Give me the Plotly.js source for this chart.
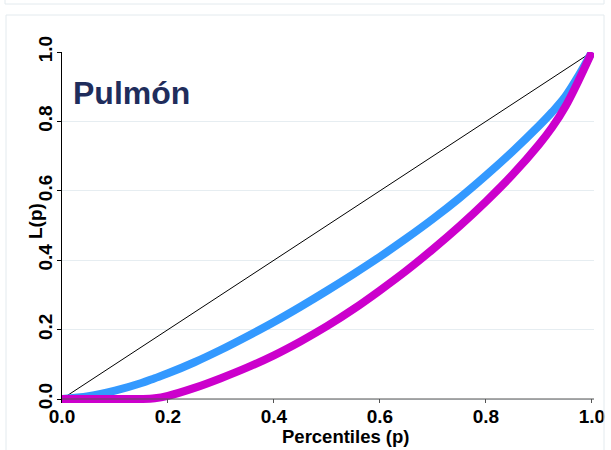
<!DOCTYPE html>
<html>
<head>
<meta charset="utf-8">
<script src="https://cdn.plot.ly/plotly-3.0.1.min.js"></script>
<style>html,body{margin:0;padding:0;background:#fff;}#chart{width:611px;height:450px;}</style>
</head>
<body>
<div id="chart"></div>
<script>
// Percentiles (p)
var pctl = [0, 0.05, 0.1, 0.15, 0.175, 0.2, 0.25, 0.3, 0.35, 0.4, 0.45, 0.5, 0.55, 0.6, 0.65, 0.7, 0.75, 0.8, 0.85, 0.9, 0.925, 0.95, 0.975, 1.0];
// Lorenz curve L(p) - blue series
var lorenzBlue = [0, 0.008, 0.024, 0.046, 0.06, 0.074, 0.106, 0.142, 0.181, 0.222, 0.266, 0.312, 0.36, 0.41, 0.463, 0.519, 0.579, 0.644, 0.713, 0.787, 0.827, 0.872, 0.932, 1.0];
// Lorenz curve L(p) - magenta series
var lorenzMagenta = [0, 0, 0, 0, 0.002, 0.009, 0.032, 0.06, 0.091, 0.126, 0.166, 0.21, 0.259, 0.313, 0.37, 0.432, 0.498, 0.569, 0.646, 0.733, 0.783, 0.843, 0.918, 1.0];
// Equality line
var equalX = [0, 1];
var equalY = [0, 1];
var tickVals = [0, 0.2, 0.4, 0.6, 0.8, 1.0];
var tickText = ['0.0', '0.2', '0.4', '0.6', '0.8', '1.0'];
var panelTitle = 'Pulmón';
var xTitle = 'Percentiles (p)';
var yTitle = 'L(p)';

var font = 'Liberation Sans, Arial, Helvetica, sans-serif';

var traces = [
  {x: equalX, y: equalY, mode: 'lines', line: {color: '#000000', width: 1}, hoverinfo: 'skip'},
  {x: pctl, y: lorenzBlue, mode: 'lines', line: {color: '#3399FF', width: 8, shape: 'spline', smoothing: 1}},
  {x: pctl, y: lorenzMagenta, mode: 'lines', line: {color: '#CC00CC', width: 8, shape: 'spline', smoothing: 1}}
];

// plot area: x 62..594, y 52..403
function px(v){ return (v - 62) / 532; }
function py(v){ return (403 - v) / 351; }

var layout = {
  width: 611, height: 450,
  margin: {l: 62, r: 17, t: 52, b: 47},
  paper_bgcolor: '#ffffff', plot_bgcolor: '#ffffff',
  showlegend: false,
  xaxis: {
    range: [0, 1.004], showgrid: false, zeroline: false, showline: false,
    ticks: 'inside', ticklen: 4, tickcolor: '#555555',
    tickvals: tickVals, ticktext: tickText,
    tickfont: {family: font, size: 19, color: '#000', weight: 'bold'}
  },
  yaxis: {
    range: [-0.0115, 1.0], showgrid: true, gridcolor: '#e6edf1', gridwidth: 1,
    zeroline: false, showline: true, linecolor: '#000000', linewidth: 1,
    ticks: 'outside', ticklen: 4, tickcolor: '#000000',
    tickvals: tickVals, ticktext: tickText, tickangle: -90, ticklabelstandoff: -3,
    tickfont: {family: font, size: 19, color: '#000', weight: 'bold'}
  },
  shapes: [
    {type: 'rect', xref: 'paper', yref: 'paper', x0: px(5), x1: px(604), y0: py(4), y1: py(-20), line: {color: '#e3eaee', width: 1}, fillcolor: 'rgba(0,0,0,0)'},
    {type: 'rect', xref: 'paper', yref: 'paper', x0: px(6), x1: px(604), y0: py(15), y1: py(470), line: {color: '#e3eaee', width: 1}, fillcolor: 'rgba(0,0,0,0)'},
    {type: 'line', xref: 'x', yref: 'y', x0: 0, x1: 1.004, y0: 0, y1: 0, line: {color: '#555555', width: 1.2}}
  ],
  annotations: [
    {text: '<b>' + panelTitle + '</b>', xref: 'paper', yref: 'paper', x: px(71), y: py(93), xanchor: 'left', yanchor: 'middle', showarrow: false, font: {family: font, size: 32, color: '#1f2d5c'}},
    {text: '<b>' + xTitle + '</b>', xref: 'paper', yref: 'paper', x: px(346), y: py(436), xanchor: 'center', yanchor: 'middle', showarrow: false, font: {family: font, size: 18.5, color: '#000'}},
    {text: '<b>' + yTitle + '</b>', xref: 'paper', yref: 'paper', x: px(35), y: py(221), xanchor: 'center', yanchor: 'middle', textangle: -90, showarrow: false, font: {family: font, size: 19, color: '#000'}}
  ]
};

Plotly.newPlot('chart', traces, layout, {displayModeBar: false, staticPlot: true});
</script>
</body>
</html>
